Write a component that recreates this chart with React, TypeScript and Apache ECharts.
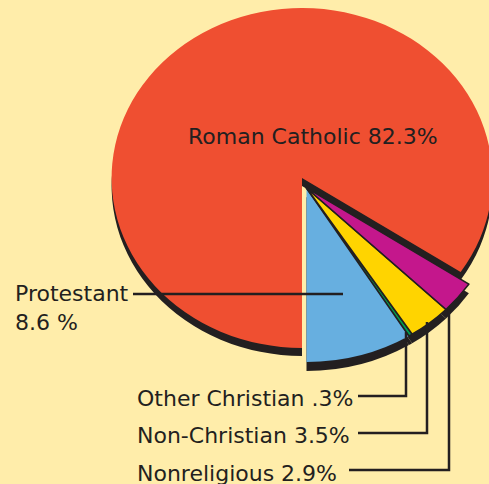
import React, { useEffect, useRef } from 'react';
import * as echarts from 'echarts';

// ---- data ----
const categories = ['Protestant', 'Other Christian', 'Non-Christian', 'Nonreligious', 'Roman Catholic'];
const values = [8.6, 0.3, 3.5, 2.9, 82.3];
const valueLabels = ['8.6 %', '.3%', '3.5%', '2.9%', '82.3%'];
const sliceColors = ['#67AFE0', '#00A04F', '#FFD400', '#C4178C', '#EF4F31'];

// ---- styles ----
const BG = '#FFEDAA';
const INK = '#231F20';
const K = 1.12; // horizontal stretch of the pie (tilted look)
const FONT = '22px "DejaVu Sans"';
const MAIN = 4; // index of Roman Catholic

function pieSeries(
  center: [number, number],
  radius: number,
  show: (i: number) => boolean,
  color: (i: number) => string,
  border: (i: number) => number
) {
  return {
    type: 'pie',
    center,
    radius: [0, radius],
    startAngle: 270,
    clockwise: false,
    padAngle: 0,
    minAngle: 0,
    silent: true,
    avoidLabelOverlap: false,
    label: { show: false },
    labelLine: { show: false },
    emphasis: { disabled: true },
    data: categories.map((name, i) => ({
      name,
      value: values[i],
      itemStyle: show(i)
        ? { color: color(i), borderColor: INK, borderWidth: border(i), borderRadius: 0 }
        : { color: 'rgba(0,0,0,0)', borderWidth: 0, borderRadius: 0 },
    })),
  };
}

export default function App() {
  const pieRef = useRef<HTMLDivElement>(null);
  const labRef = useRef<HTMLDivElement>(null);

  useEffect(() => {
    const pie = echarts.init(pieRef.current!, null, { renderer: 'svg' });
    const lab = echarts.init(labRef.current!, null, { renderer: 'svg' });

    const redC: [number, number] = [302 / K, 178];
    const smallC: [number, number] = [306.5 / K, 188];
    const isMain = (i: number) => i === MAIN;
    const isSmall = (i: number) => i !== MAIN;

    pie.setOption({
      animation: false,
      series: [
        pieSeries([redC[0], redC[1] + 8], 170, isMain, () => INK, () => 0),
        pieSeries(redC, 170, isMain, (i) => sliceColors[i], () => 0),
        pieSeries([smallC[0], smallC[1] + 9], 174, isSmall, () => INK, () => 0),
        pieSeries(smallC, 174, isSmall, (i) => sliceColors[i], (i) => (i === 0 ? 0 : 1.5)),
      ],
    });

    const text = (t: string, x: number, y: number) => ({
      type: 'text',
      silent: true,
      style: { text: t, x, y, font: FONT, fill: INK, align: 'left', verticalAlign: 'middle' },
    });
    const line = (pts: number[][]) => ({
      type: 'polyline',
      silent: true,
      shape: { points: pts },
      style: { stroke: INK, lineWidth: 2.5, fill: null },
    });

    lab.setOption({
      animation: false,
      graphic: [
        text(`${categories[4]} ${valueLabels[4]}`, 188, 136),
        text(categories[0], 15, 293),
        text(valueLabels[0], 15, 322),
        text(`${categories[1]} ${valueLabels[1]}`, 137, 398),
        text(`${categories[2]} ${valueLabels[2]}`, 137, 435),
        text(`${categories[3]} ${valueLabels[3]}`, 137, 473),
        line([[133, 294], [343, 294]]),
        line([[358, 396], [406, 396], [406, 332]]),
        line([[358, 433], [427, 433], [427, 322]]),
        line([[349, 470], [449, 470], [449, 308]]),
      ],
    });

    return () => {
      pie.dispose();
      lab.dispose();
    };
  }, []);

  return (
    <div
      style={{
        position: 'fixed',
        left: 0,
        top: 0,
        width: 489,
        height: 484,
        background: BG,
        overflow: 'hidden',
      }}
    >
      <div
        ref={pieRef}
        style={{
          position: 'absolute',
          left: 0,
          top: 0,
          width: 489,
          height: 484,
          transform: `scaleX(${K})`,
          transformOrigin: '0 0',
        }}
      />
      <div ref={labRef} style={{ position: 'absolute', left: 0, top: 0, width: 489, height: 484 }} />
    </div>
  );
}
